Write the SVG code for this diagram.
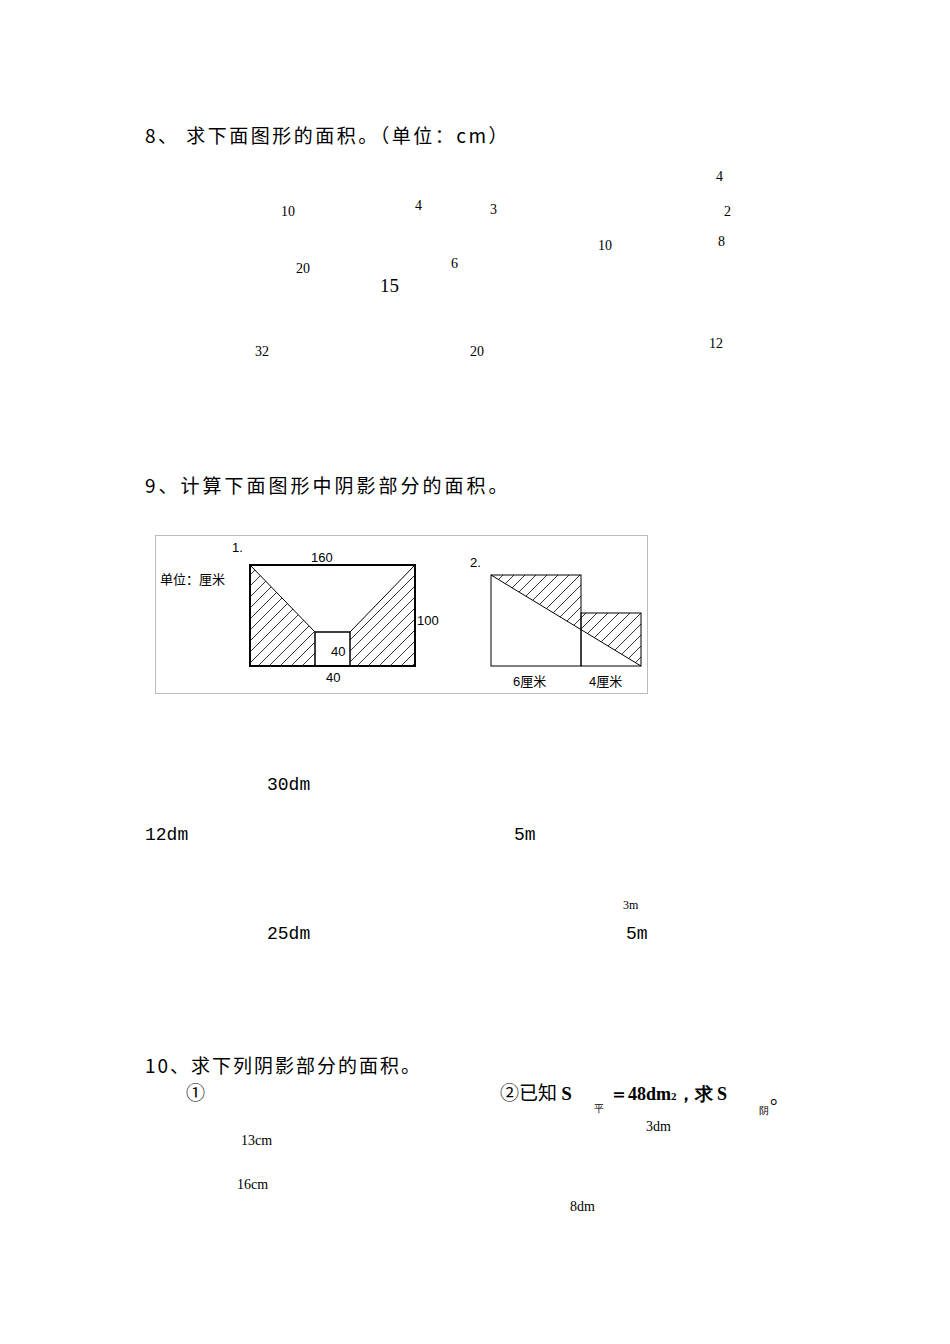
<svg xmlns="http://www.w3.org/2000/svg" width="950" height="1344" viewBox="0 0 950 1344">
<style>
.h{font-family:"Noto Sans CJK SC","Liberation Sans",sans-serif;font-size:19px;fill:#000}
.n{font-family:"Liberation Serif",serif;font-size:14px;fill:#000}
.m{font-family:"Liberation Mono",monospace;font-size:18px;fill:#000}
.f{font-family:"Liberation Sans","Noto Sans CJK SC",sans-serif;font-size:13px;fill:#000}
.s{fill:none;stroke:#000}
</style>
<defs>
<pattern id="hat" width="11" height="11" patternUnits="userSpaceOnUse">
<path d="M-2,13 L13,-2 M-2,2 L2,-2 M9,13 L13,9" stroke="#000" stroke-width="0.8"/>
</pattern>
</defs>
<rect width="950" height="1344" fill="#fff"/>
<text class="h" x="145" y="143" letter-spacing="2.5">8、 求下面图形的面积。（单位：cm）</text>
<g id="labels8">
<text class="n" x="716" y="181">4</text>
<text class="n" x="281" y="216">10</text>
<text class="n" x="415" y="210">4</text>
<text class="n" x="490" y="214">3</text>
<text class="n" x="724" y="216">2</text>
<text class="n" x="598" y="250">10</text>
<text class="n" x="718" y="246">8</text>
<text class="n" x="296" y="273">20</text>
<text class="n" x="451" y="268">6</text>
<text class="n" x="380" y="292" style="font-size:19px">15</text>
<text class="n" x="255" y="356">32</text>
<text class="n" x="470" y="356">20</text>
<text class="n" x="709" y="348">12</text>
</g>
<text class="h" x="145" y="493" letter-spacing="3">9、计算下面图形中阴影部分的面积。</text>
<g id="fig9">
<rect x="155.5" y="535.5" width="492" height="158" fill="none" stroke="#bbb"/>
<polygon points="250,565 315,632 315,666 250,666" fill="url(#hat)"/>
<polygon points="415,565 415,666 350,666 350,632" fill="url(#hat)"/>
<rect x="250" y="565" width="165" height="101" class="s" stroke-width="2"/>
<rect x="315" y="632" width="35" height="34" class="s" stroke-width="1.5"/>
<line x1="250" y1="565" x2="315" y2="632" stroke="#000"/>
<line x1="415" y1="565" x2="350" y2="632" stroke="#000"/>
<text class="f" x="232" y="552">1.</text>
<text class="f" x="311" y="562">160</text>
<text class="f" x="160" y="584">单位：厘米</text>
<text class="f" x="417" y="625">100</text>
<text class="f" x="331" y="656">40</text>
<text class="f" x="326" y="682">40</text>
<polygon points="491,575 581,575 581,613 641,613 641,666" fill="url(#hat)"/>
<rect x="491" y="575" width="90" height="91" class="s"/>
<rect x="581" y="613" width="60" height="53" class="s"/>
<line x1="491" y1="575" x2="641" y2="666" stroke="#000"/>
<text class="f" x="470" y="567">2.</text>
<text class="f" x="513" y="686">6厘米</text>
<text class="f" x="589" y="686">4厘米</text>
</g>
<g id="labels9">
<text class="m" x="267" y="790">30dm</text>
<text class="m" x="145" y="840">12dm</text>
<text class="m" x="514" y="840">5m</text>
<text class="n" x="623" y="909" style="font-size:12px">3m</text>
<text class="m" x="267" y="939">25dm</text>
<text class="m" x="626" y="939">5m</text>
</g>
<text class="h" x="145" y="1073" letter-spacing="2">10、求下列阴影部分的面积。</text>
<text class="h" x="186" y="1100">①</text>
<text class="h" x="500" y="1100">②已知 <tspan font-family="Liberation Serif" font-weight="bold">S</tspan></text>
<text class="n" x="594" y="1112" style="font-size:10px">平</text>
<text class="n" x="610" y="1100" style="font-size:18px;font-weight:bold">＝48dm<tspan font-size="11">2</tspan>，求 S</text>
<text class="n" x="759" y="1114" style="font-size:10px">阴</text>
<text class="h" x="770" y="1104">。</text>
<g id="labels10">
<text class="n" x="241" y="1145">13cm</text>
<text class="n" x="646" y="1131">3dm</text>
<text class="n" x="237" y="1189">16cm</text>
<text class="n" x="570" y="1211">8dm</text>
</g>
</svg>
